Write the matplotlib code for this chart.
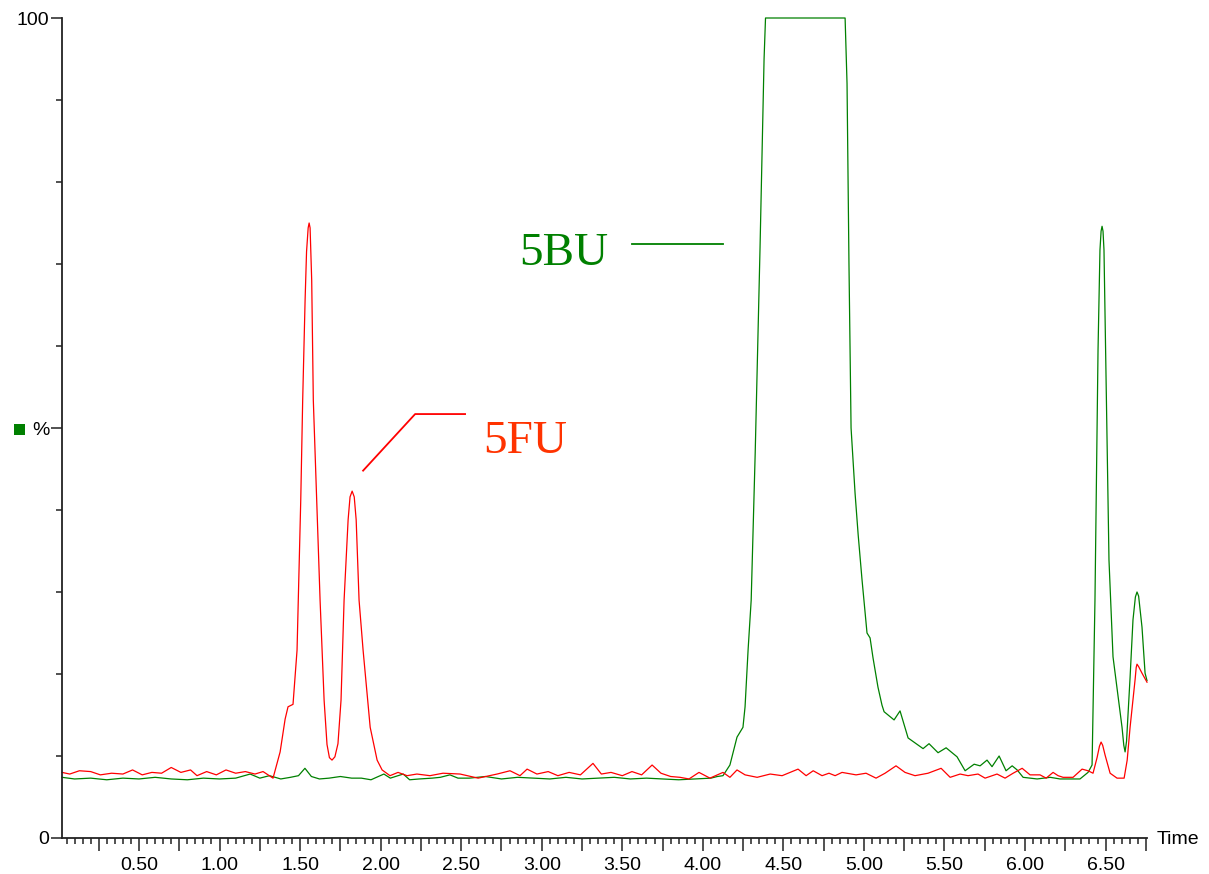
import matplotlib
matplotlib.use("Agg")
import matplotlib.pyplot as plt
from matplotlib.ticker import FixedLocator, MultipleLocator, FuncFormatter
from matplotlib.patches import Rectangle

# Chromatogram traces: retention time (min) and relative intensity (%)
green_time = [0.022, 0.10, 0.20, 0.30, 0.40, 0.50, 0.60, 0.70, 0.80, 0.90,
              1.00, 1.10, 1.19, 1.25, 1.31, 1.38, 1.44, 1.49, 1.53, 1.57,
              1.62, 1.68, 1.75, 1.82, 1.88, 1.94, 2.02, 2.06, 2.14, 2.18,
              2.24, 2.32, 2.37, 2.43, 2.48, 2.55, 2.65, 2.75, 2.85, 2.95,
              3.05, 3.15, 3.25, 3.35, 3.45, 3.55, 3.65, 3.75, 3.85, 3.95,
              4.05, 4.09, 4.125, 4.168, 4.212, 4.249, 4.262, 4.281, 4.300, 4.325,
              4.355, 4.380, 4.389, 4.883, 4.895, 4.907, 4.920, 4.945, 4.964, 4.988,
              5.019, 5.038, 5.056, 5.087, 5.112, 5.125, 5.187, 5.224, 5.274, 5.367,
              5.404, 5.460, 5.510, 5.578, 5.628, 5.684, 5.721, 5.764, 5.795, 5.839,
              5.882, 5.920, 5.951, 5.988, 6.075, 6.156, 6.217, 6.341, 6.391, 6.416,
              6.434, 6.453, 6.465, 6.472, 6.478, 6.484, 6.490, 6.503, 6.521, 6.546,
              6.602, 6.613, 6.621, 6.630, 6.652, 6.670, 6.685, 6.695, 6.705, 6.726,
              6.745, 6.757]
green_value = [7.4, 7.2, 7.3, 7.1, 7.3, 7.2, 7.4, 7.2, 7.1, 7.3,
               7.2, 7.3, 7.8, 7.3, 7.6, 7.2, 7.4, 7.6, 8.5, 7.5,
               7.2, 7.3, 7.5, 7.3, 7.3, 7.1, 7.8, 7.3, 7.8, 7.1,
               7.2, 7.3, 7.4, 7.7, 7.3, 7.3, 7.5, 7.2, 7.4, 7.3,
               7.2, 7.4, 7.2, 7.3, 7.4, 7.2, 7.3, 7.2, 7.1, 7.2,
               7.3, 7.5, 7.6, 8.9, 12.3, 13.5, 16.0, 23.0, 29.0, 47.0,
               72.0, 95.0, 100.0, 100.0, 92.0, 70.0, 50.0, 42.0, 37.0, 31.5,
               25.0, 24.4, 22.0, 18.4, 16.2, 15.4, 14.4, 15.5, 12.2, 10.9,
               11.5, 10.4, 11.0, 9.9, 8.2, 9.0, 8.8, 9.5, 8.7, 10.0,
               8.2, 8.8, 8.3, 7.4, 7.2, 7.4, 7.2, 7.2, 8.0, 8.9,
               29.0, 59.5, 71.7, 74.0, 74.6, 74.0, 71.7, 55.9, 33.9, 22.1,
               13.5, 11.3, 10.5, 11.8, 19.6, 26.6, 29.4, 30.0, 29.5, 25.7,
               20.1, 19.2]

red_time = [0.022, 0.07, 0.13, 0.20, 0.26, 0.33, 0.40, 0.46, 0.52, 0.58,
            0.64, 0.70, 0.76, 0.82, 0.86, 0.92, 0.98, 1.04, 1.10, 1.16,
            1.22, 1.27, 1.332, 1.376, 1.407, 1.425, 1.456, 1.481, 1.504, 1.516,
            1.531, 1.540, 1.550, 1.556, 1.562, 1.572, 1.582, 1.603, 1.624, 1.649,
            1.667, 1.682, 1.698, 1.716, 1.735, 1.754, 1.773, 1.798, 1.810, 1.823,
            1.836, 1.848, 1.866, 1.891, 1.935, 1.978,
            2.009, 2.058, 2.108, 2.164, 2.225, 2.306, 2.387, 2.493, 2.605, 2.723,
            2.803, 2.865, 2.909, 2.97, 3.04, 3.10, 3.17, 3.24, 3.318, 3.37,
            3.43, 3.50, 3.56, 3.62, 3.685, 3.74, 3.80, 3.858, 3.914, 3.976,
            4.044, 4.125, 4.168, 4.212, 4.262, 4.337, 4.418, 4.492, 4.591, 4.641,
            4.685, 4.740, 4.783, 4.821, 4.864, 4.951, 5.013, 5.075, 5.131, 5.199,
            5.255, 5.317, 5.398, 5.479, 5.535, 5.597, 5.646, 5.708, 5.752, 5.826,
            5.876, 5.926, 5.982, 6.031, 6.093, 6.131, 6.174, 6.205, 6.236, 6.298,
            6.354, 6.391, 6.422, 6.447, 6.462, 6.472, 6.482, 6.497, 6.528, 6.571,
            6.615, 6.634, 6.652, 6.683, 6.690, 6.695, 6.705, 6.726, 6.757]
red_value = [8.0, 7.8, 8.2, 8.1, 7.7, 7.9, 7.8, 8.3, 7.7, 8.0,
             7.9, 8.6, 8.0, 8.3, 7.6, 8.1, 7.7, 8.3, 7.9, 8.1,
             7.8, 8.1, 7.3, 10.5, 14.5, 16.0, 16.3, 22.9, 41.2, 53.4,
             65.6, 71.5, 74.4, 75.0, 74.4, 68.0, 53.4, 41.2, 29.0, 16.8,
             11.4, 9.8, 9.5, 9.9, 11.5, 16.8, 29.0, 38.8, 41.6, 42.3,
             41.6, 38.8, 29.0, 22.9, 13.5, 9.5,
             8.3, 7.6, 8.0, 7.6, 7.8, 7.6, 7.9, 7.8, 7.3, 7.8,
             8.2, 7.6, 8.4, 7.8, 8.1, 7.6, 8.0, 7.7, 9.1, 7.8,
             8.0, 7.6, 8.1, 7.7, 8.9, 7.9, 7.5, 7.4, 7.2, 8.0,
             7.3, 8.0, 7.4, 8.3, 7.7, 7.4, 7.8, 7.6, 8.4, 7.6,
             8.2, 7.6, 7.9, 7.6, 8.0, 7.7, 7.9, 7.3, 7.9, 8.8,
             8.0, 7.6, 7.9, 8.5, 7.4, 7.8, 7.6, 7.8, 7.3, 7.8,
             7.3, 7.9, 8.5, 7.7, 7.7, 7.3, 8.0, 7.6, 7.4, 7.4,
             8.4, 8.2, 7.9, 9.8, 11.2, 11.7, 11.3, 10.1, 7.9, 7.3,
             7.3, 9.5, 13.5, 19.3, 20.8, 21.2, 20.9, 20.1, 19.0]

x_labels = ["0.50", "1.00", "1.50", "2.00", "2.50", "3.00", "3.50",
            "4.00", "4.50", "5.00", "5.50", "6.00", "6.50"]
label_positions = [0.5 * (i + 1) for i in range(len(x_labels))]

GREEN = "#008000"
RED = "#ff0000"
LABEL_RED = "#ff3300"
AXIS = "#222222"

plt.rcParams["font.family"] = ["Liberation Sans", "DejaVu Sans"]

fig = plt.figure(figsize=(12.09, 8.74), dpi=100)
W, H = 1209, 874
ax = fig.add_axes([62 / W, 36 / H, (1147 - 62) / W, (838 - 18) / H])

ax.plot(green_time, green_value, color=GREEN, lw=0.9, clip_on=False)
ax.plot(red_time, red_value, color=RED, lw=0.9, clip_on=False)

ax.set_xlim(0.022, 6.757)
ax.set_ylim(0, 100)

for side in ("top", "right"):
    ax.spines[side].set_visible(False)
for side in ("left", "bottom"):
    ax.spines[side].set_color(AXIS)
    ax.spines[side].set_linewidth(1.3)

# x axis: long ticks every 0.25, short every 0.05, labels every 0.50
ax.xaxis.set_major_locator(MultipleLocator(0.25))
ax.xaxis.set_minor_locator(MultipleLocator(0.05))
label_map = {round(p, 2): s for p, s in zip(label_positions, x_labels)}
ax.xaxis.set_major_formatter(FuncFormatter(lambda v, pos: label_map.get(round(v, 2), "")))
ax.tick_params(axis="x", which="major", length=9, width=1.1, color=AXIS,
               direction="out", pad=5, labelsize=14)
ax.tick_params(axis="x", which="minor", length=4, width=1.1, color=AXIS,
               direction="out")

# y axis: 0 / % / 100 with minor ticks every 10
ax.yaxis.set_major_locator(FixedLocator([0, 50, 100]))
ax.yaxis.set_minor_locator(MultipleLocator(10))
ax.set_yticklabels(["0", "%", "100"])
ax.tick_params(axis="y", which="major", length=8, width=1.1, color=AXIS,
               direction="out", pad=1, labelsize=14)
ax.tick_params(axis="y", which="minor", length=4, width=1.1, color=AXIS,
               direction="out")

# legend swatch next to the % label
fig.add_artist(Rectangle((14 / W, 1 - 435 / H), 11 / W, 11 / H,
                         transform=fig.transFigure, color=GREEN, lw=0))

fig.text(1157 / W, 1 - 840 / H, "Time", ha="left", va="center", fontsize=14)

# compound annotations
ax.text(2.859, 69.9, "5BU", color=GREEN, fontsize=34,
        family="Liberation Serif", ha="left", va="baseline")
ax.plot([3.56, 4.125], [72.4, 72.4], color=GREEN, lw=1.3)

ax.text(2.635, 47.0, "5FU", color=LABEL_RED, fontsize=34,
        family="Liberation Serif", ha="left", va="baseline")
ax.plot([1.891, 2.214, 2.524], [44.8, 51.7, 51.7], color=RED, lw=1.3)

fig.savefig("out.png", dpi=100)
